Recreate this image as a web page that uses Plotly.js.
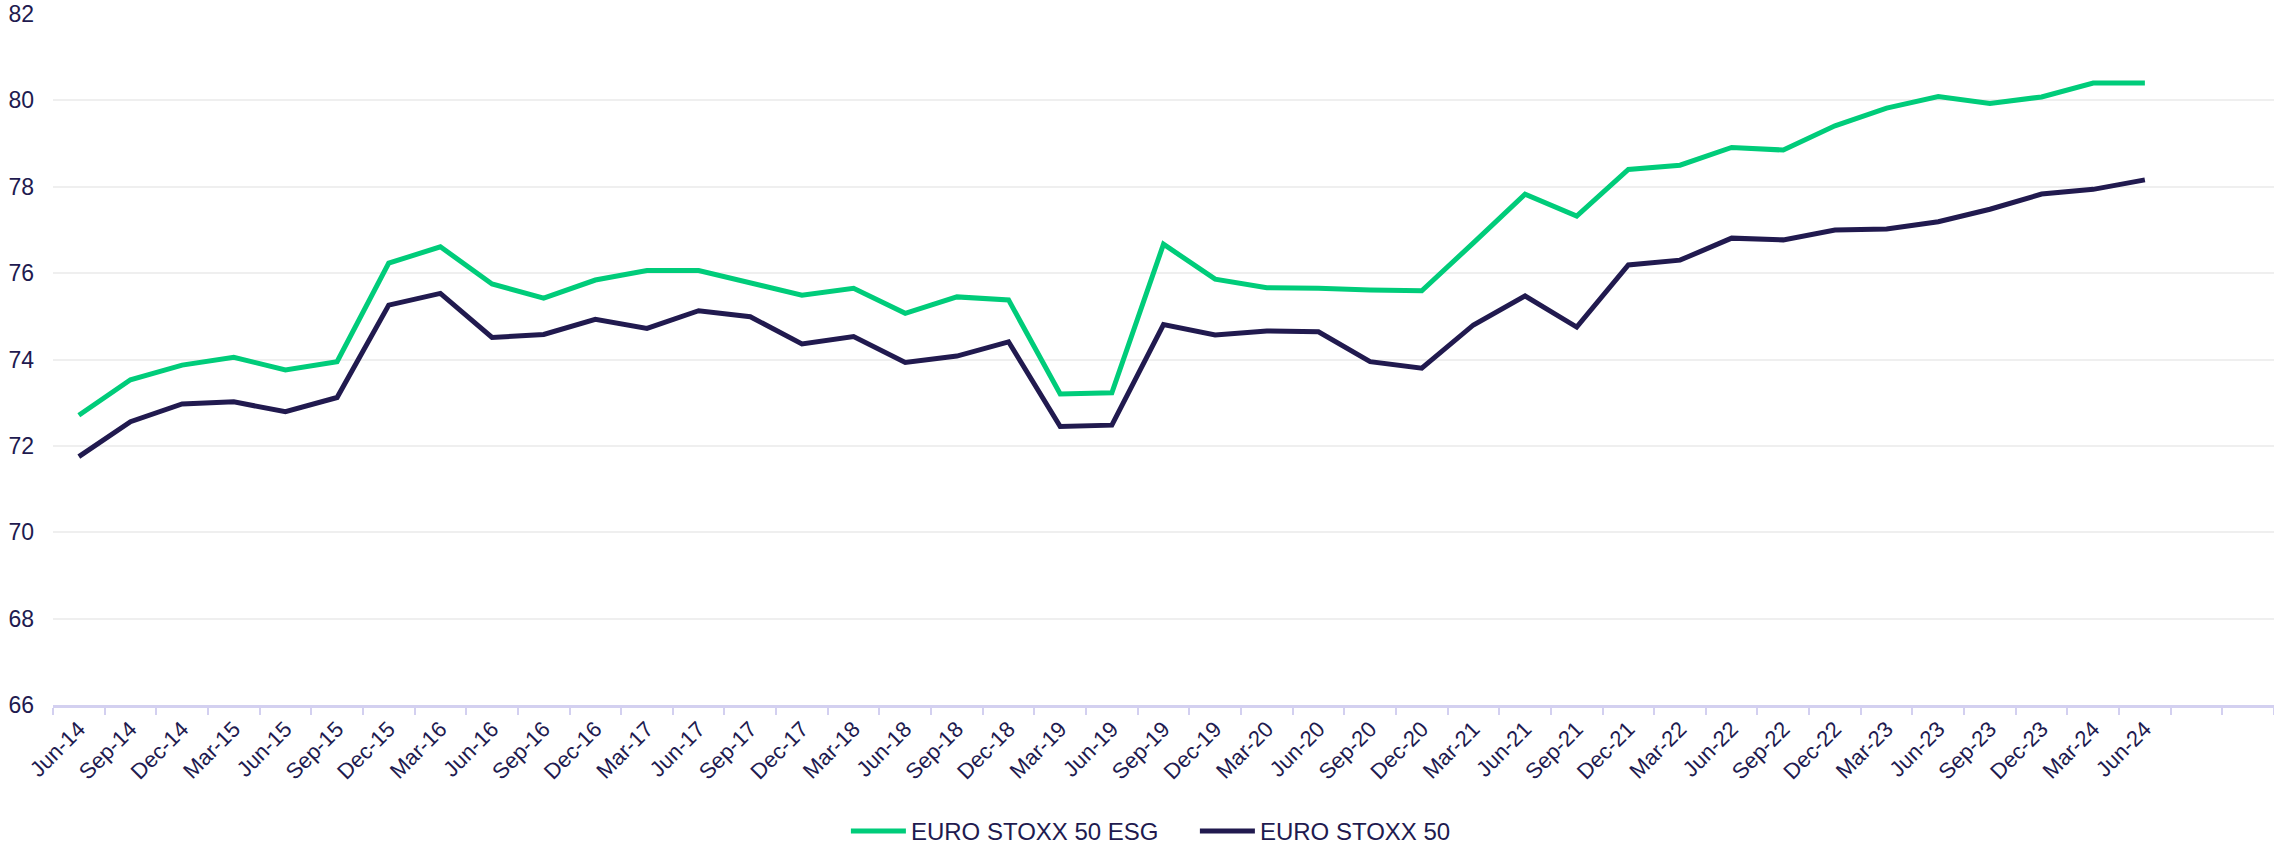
<!DOCTYPE html>
<html>
<head>
<meta charset="utf-8">
<script src="https://cdn.plot.ly/plotly-3.0.1.min.js"></script>
<style>
  html, body { margin: 0; padding: 0; background: #ffffff; }
  #chart { width: 2274px; height: 846px; }
</style>
</head>
<body>
<div id="chart"></div>
<script>
const quarters = [
  "Jun-14","Sep-14","Dec-14","Mar-15","Jun-15","Sep-15","Dec-15","Mar-16","Jun-16","Sep-16",
  "Dec-16","Mar-17","Jun-17","Sep-17","Dec-17","Mar-18","Jun-18","Sep-18","Dec-18","Mar-19",
  "Jun-19","Sep-19","Dec-19","Mar-20","Jun-20","Sep-20","Dec-20","Mar-21","Jun-21","Sep-21",
  "Dec-21","Mar-22","Jun-22","Sep-22","Dec-22","Mar-23","Jun-23","Sep-23","Dec-23","Mar-24",
  "Jun-24"
];
// two empty category slots after the last quarter
const emptySlots = [" ", "  "];

const esgValues = [
  72.71, 73.53, 73.87, 74.05, 73.76, 73.95, 76.23, 76.61, 75.75, 75.42,
  75.84, 76.06, 76.06, 75.77, 75.49, 75.65, 75.07, 75.45, 75.38, 73.20,
  73.23, 76.67, 75.86, 75.66, 75.65, 75.61, 75.59, 76.70, 77.83, 77.32,
  78.40, 78.50, 78.91, 78.85, 79.41, 79.82, 80.09, 79.93, 80.08, 80.40,
  80.40
];
const stoxxValues = [
  71.75, 72.56, 72.97, 73.02, 72.79, 73.12, 75.26, 75.53, 74.51, 74.58,
  74.93, 74.72, 75.13, 74.99, 74.36, 74.53, 73.93, 74.08, 74.41, 72.45,
  72.48, 74.81, 74.57, 74.66, 74.64, 73.95, 73.80, 74.80, 75.47, 74.75,
  76.19, 76.30, 76.81, 76.77, 77.00, 77.02, 77.19, 77.48, 77.83, 77.94,
  78.16
];
const seriesNames = ["EURO STOXX 50 ESG", "EURO STOXX 50"];
const yTicks = [66, 68, 70, 72, 74, 76, 78, 80, 82];

const navy = "#211a4f";
const green = "#00cc7a";
const fontFamily = "Arial, 'Liberation Sans', sans-serif";

const traces = [
  {
    x: quarters, y: esgValues, name: seriesNames[0],
    type: "scatter", mode: "lines",
    line: { color: green, width: 5 }
  },
  {
    x: quarters, y: stoxxValues, name: seriesNames[1],
    type: "scatter", mode: "lines",
    line: { color: navy, width: 5 }
  }
];

const layout = {
  width: 2274, height: 846,
  margin: { l: 53, r: 0, t: 14, b: 141, autoexpand: false },
  paper_bgcolor: "#ffffff", plot_bgcolor: "#ffffff",
  font: { family: fontFamily, color: navy, size: 23 },
  showlegend: true,
  legend: {
    orientation: "h", x: 0.357, xanchor: "left", y: -0.183, yanchor: "middle",
    font: { family: fontFamily, size: 24, color: navy },
    itemwidth: 55, traceorder: "normal",
    entrywidth: 279, entrywidthmode: "pixels"
  },
  xaxis: {
    type: "category",
    categoryorder: "array",
    categoryarray: quarters.concat(emptySlots),
    range: [-0.5, 42.5],
    tickson: "boundaries",
    ticks: "outside", ticklen: 7, tickwidth: 2, tickcolor: "#d3d0f0",
    showline: true, linecolor: "#d3d0f0", linewidth: 2.5,
    showgrid: false, zeroline: false,
    tickangle: -45,
    tickfont: { family: fontFamily, size: 22, color: navy },
    fixedrange: true
  },
  yaxis: {
    range: [66, 82],
    tickvals: yTicks,
    ticks: "", showline: false, zeroline: false,
    showgrid: true, gridcolor: "#efefef", gridwidth: 2,
    tickfont: { family: fontFamily, size: 23, color: navy },
    ticklabelstandoff: 18,
    fixedrange: true
  }
};

Plotly.newPlot("chart", traces, layout, { displayModeBar: false, staticPlot: true });
</script>
</body>
</html>
